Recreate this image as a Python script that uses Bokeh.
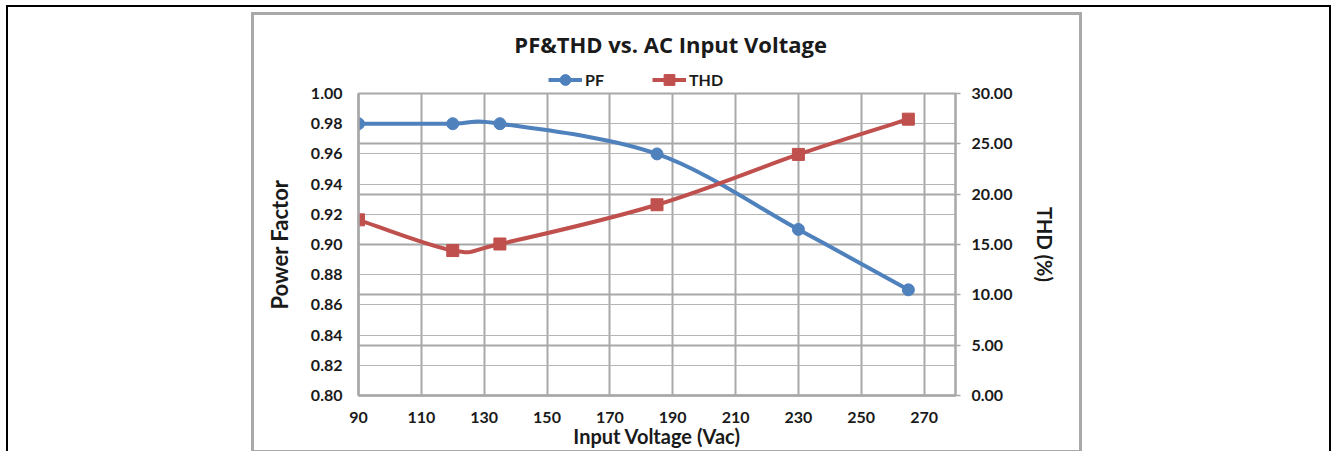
from bokeh.plotting import figure
from bokeh.layouts import column
from bokeh.models import (Range1d, LinearAxis, Grid, FixedTicker, NumeralTickFormatter,
                          Legend, LegendItem, Label, ColumnDataSource)
from bokeh.embed import file_html
from bokeh.resources import INLINE

# ---- data ----
voltage = [90, 120, 135, 185, 230, 265]
pf = [0.98, 0.98, 0.98, 0.96, 0.91, 0.87]
thd = [17.45, 14.40, 15.05, 18.95, 23.95, 27.45]
x_ticks = [90, 110, 130, 150, 170, 190, 210, 230, 250, 270]
pf_ticks = [0.80, 0.82, 0.84, 0.86, 0.88, 0.90, 0.92, 0.94, 0.96, 0.98, 1.00]
thd_ticks = [0, 5, 10, 15, 20, 25, 30]

BLUE = "#4f81bd"
RED = "#c0504d"
GRID = "#a8a8a8"
TXT = "#1a1a1a"
FONT = "Lato"

BL, BR = 104, 124   # left / right borders shared by header and chart (frame 597 px wide)
OVERLAP = 14        # the chart's empty top border slides under the header strip


def smooth_segments(xs, ys):
    """Bezier control points (Catmull-Rom style, like a spreadsheet's smoothed line)."""
    n = len(xs)
    seg = dict(x0=[], y0=[], x1=[], y1=[], cx0=[], cy0=[], cx1=[], cy1=[])
    for i in range(n - 1):
        a = max(i - 1, 0)
        b = min(i + 2, n - 1)
        seg["x0"].append(xs[i]); seg["y0"].append(ys[i])
        seg["x1"].append(xs[i + 1]); seg["y1"].append(ys[i + 1])
        seg["cx0"].append(xs[i] + (xs[i + 1] - xs[a]) / 6)
        seg["cy0"].append(ys[i] + (ys[i + 1] - ys[a]) / 6)
        seg["cx1"].append(xs[i + 1] - (xs[b] - xs[i]) / 6)
        seg["cy1"].append(ys[i + 1] - (ys[b] - ys[i]) / 6)
    return seg


# ================= header: title + legend =================
HW, HH = 825, 76
h = figure(width=HW, height=HH, output_backend="svg", toolbar_location=None,
           x_range=Range1d(0, 1), y_range=Range1d(0, 1),
           x_axis_location=None, y_axis_location=None,
           min_border_left=BL, min_border_right=BR, min_border_top=0, min_border_bottom=0,
           margin=0)
h.grid.visible = False
h.outline_line_color = None
h.background_fill_color = "white"
h.border_fill_color = "white"

# legend keys: the same series, lying outside this strip's (0..1) ranges, so only the keys show
leg_pf_line = h.line(voltage, pf, line_color=BLUE, line_width=4)
leg_pf_pt = h.scatter(voltage, pf, marker="circle", fill_color=BLUE, line_color=BLUE)
leg_thd_line = h.line(voltage, thd, line_color=RED, line_width=4)
leg_thd_pt = h.scatter(voltage, thd, marker="square", fill_color=RED, line_color=RED)

legend = Legend(items=[LegendItem(label="PF", renderers=[leg_pf_line, leg_pf_pt]),
                       LegendItem(label="THD", renderers=[leg_thd_line, leg_thd_pt])],
                orientation="horizontal", location=(190, -2),
                glyph_width=34, glyph_height=27, label_standoff=3, spacing=47,
                padding=0, margin=0, border_line_color=None, background_fill_alpha=0,
                label_text_font=FONT, label_text_font_style="bold",
                label_text_font_size="16px", label_text_color=TXT)
h.add_layout(legend)

h.add_layout(Label(x=315, y=48, x_units="screen", y_units="screen",
                   text="PF&THD  vs. AC Input Voltage", text_align="center",
                   text_baseline="middle", text_font="Open Sans", text_font_style="bold",
                   text_font_size="22px", text_color=TXT))

# ================= main chart =================
p = figure(width=825, height=373, output_backend="svg", toolbar_location=None,
           x_range=Range1d(90, 280), y_range=Range1d(0.80, 1.00),
           min_border_left=BL, min_border_right=BR, min_border_top=16, min_border_bottom=55,
           margin=(-OVERLAP, 0, 0, 0))
p.background_fill_color = "white"
p.border_fill_alpha = 0
p.outline_line_color = GRID
p.outline_line_width = 2

p.extra_y_ranges = {"thd": Range1d(0, 30)}

xa = p.xaxis[0]
xa.ticker = FixedTicker(ticks=x_ticks)
xa.axis_label = "Input Voltage (Vac)"
ya = p.yaxis[0]
ya.ticker = FixedTicker(ticks=pf_ticks)
ya.formatter = NumeralTickFormatter(format="0.00")
ya.axis_label = "Power Factor"

ra = LinearAxis(y_range_name="thd", ticker=FixedTicker(ticks=thd_ticks),
                formatter=NumeralTickFormatter(format="0.00"), axis_label="THD (%)")
p.add_layout(ra, "right")

for ax in (xa, ya, ra):
    ax.major_tick_in = 0
    ax.major_tick_out = 0
    ax.minor_tick_line_color = None
    ax.axis_line_color = GRID
    ax.axis_line_width = 2.5
    ax.major_label_text_font = FONT
    ax.major_label_text_font_style = "bold"
    ax.major_label_text_font_size = "16px"
    ax.major_label_text_color = TXT
    ax.axis_label_text_font = FONT
    ax.axis_label_text_font_style = "bold"
    ax.axis_label_text_color = TXT

xa.axis_label_text_font_size = "20px"
ya.axis_label_text_font_size = "22px"
ra.axis_label_text_font_size = "20px"

xa.major_label_standoff = 16
xa.axis_label_standoff = -2
ya.major_label_standoff = 16
ya.axis_label_standoff = 15
ra.major_tick_out = 5
ra.major_tick_line_color = GRID
ra.major_tick_line_width = 1.5
ra.axis_line_width = 2
ra.major_label_standoff = 11
ra.axis_label_standoff = 18

p.xgrid.ticker = FixedTicker(ticks=x_ticks)
p.xgrid.grid_line_color = GRID
p.xgrid.grid_line_width = 2
p.ygrid.ticker = FixedTicker(ticks=pf_ticks)
p.ygrid.grid_line_color = "#b4b4b4"
p.ygrid.grid_line_width = 1.2
p.add_layout(Grid(dimension=1, ticker=FixedTicker(ticks=thd_ticks), y_range_name="thd",
                  grid_line_color=GRID, grid_line_width=2))

pf_src = ColumnDataSource(smooth_segments(voltage, pf))
thd_src = ColumnDataSource(smooth_segments(voltage, thd))

p.bezier(x0="x0", y0="y0", x1="x1", y1="y1", cx0="cx0", cy0="cy0", cx1="cx1", cy1="cy1",
         source=pf_src, line_color=BLUE, line_width=4)
p.bezier(x0="x0", y0="y0", x1="x1", y1="y1", cx0="cx0", cy0="cy0", cx1="cx1", cy1="cy1",
         source=thd_src, line_color=RED, line_width=4, y_range_name="thd")
p.scatter(voltage, pf, marker="circle", size=12, fill_color=BLUE, line_color=BLUE)
p.scatter(voltage, thd, marker="square", size=12, fill_color=RED, line_color=RED,
          y_range_name="thd")

# ---- grey chart box and black outer frame (page layout) ----
white_box = column(h, p, margin=(3, 3, 1, 3), styles={"background-color": "white"})
grey_box = column(white_box, margin=(5, 0, 0, 243), styles={"background-color": "#a9a9a9"})
inner = column(grey_box, width=1321, height=444, margin=(2, 2, 0, 2),
               styles={"background-color": "white"})
page = column(inner, margin=(5, 0, 0, 6), styles={"background-color": "black"})

open("out.html", "w").write(file_html(page, INLINE))
